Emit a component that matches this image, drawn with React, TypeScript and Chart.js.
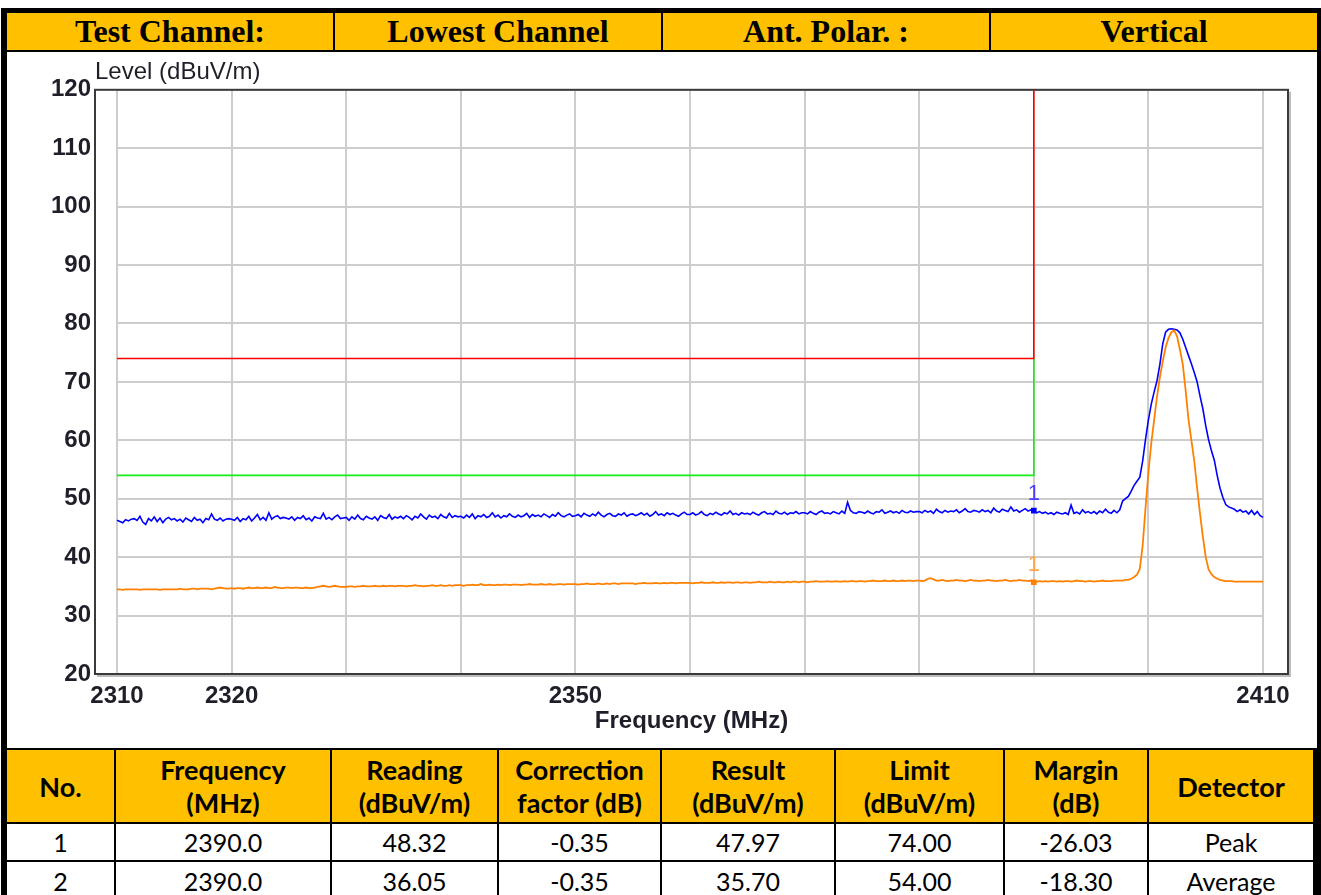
import React, { useEffect, useRef } from 'react';
import { Chart, registerables } from 'chart.js';

Chart.register(...registerables);

// ---------------- data ----------------
const headerCells = ['Test Channel:', 'Lowest Channel', 'Ant. Polar. :', 'Vertical'];

const sweepStart = 2310;
const sweepStep = 0.25;

// Peak detector trace (dBuV/m), 2310 .. 2410 MHz every 0.25 MHz
const peakLevels = [
  46.3, 46.1, 45.9, 46.4, 46.2, 46.5, 46.6, 46.3, 47.0, 46.0, 45.6, 46.6, 46.2, 46.9, 46.1, 46.7, 45.9, 46.5, 46.8, 46.4,
  46.6, 46.2, 46.5, 46.0, 46.7, 46.4, 46.1, 46.8, 46.3, 46.5, 45.9, 46.6, 46.4, 47.4, 46.5, 46.3, 46.7, 46.2, 46.5, 46.6,
  46.5, 46.3, 46.8, 46.1, 46.6, 46.4, 47.0, 46.2, 46.7, 47.3, 46.4, 46.8, 46.3, 47.6, 46.5, 46.9, 47.1, 46.6, 46.8, 46.7,
  46.5, 46.9, 46.3, 46.8, 46.6, 47.1, 46.4, 46.7, 46.2, 46.9, 46.7, 46.6, 47.5, 46.5, 46.8, 46.4, 46.9, 47.2, 46.6, 46.7,
  46.8, 46.3, 46.9, 46.5, 47.2, 46.6, 46.4, 47.0, 46.7, 46.5, 46.9, 46.3, 47.1, 46.8, 46.6, 47.3, 46.5, 46.9, 46.7, 47.0,
  46.6, 47.1, 46.8, 46.4, 47.0, 46.7, 47.4, 46.9, 46.5, 47.2, 46.8, 47.0, 46.6, 47.3, 46.9, 46.7, 47.5, 46.8, 47.1, 46.9,
  47.0, 46.7, 47.2, 46.8, 47.4, 46.6, 47.1, 46.9, 47.3, 46.8, 47.0, 47.6, 46.9, 47.2, 46.7, 47.1, 46.9, 47.4, 47.0, 46.8,
  47.2, 46.9, 47.1, 47.5, 46.8, 47.3, 47.0, 47.2, 46.9, 47.4, 47.1, 46.8, 47.3, 47.0, 47.6, 47.1, 46.9, 47.2, 47.4, 47.0,
  47.1, 47.3, 46.9, 47.5, 47.2, 47.0, 47.4, 47.1, 47.7, 47.2, 46.9, 47.3, 47.5, 47.1, 47.0, 47.4, 47.2, 47.6, 47.0, 47.3,
  47.4, 47.1, 47.3, 47.6, 47.2, 47.5, 47.0, 47.3, 47.8, 47.2, 47.4, 47.1, 47.6, 47.3, 47.5, 47.2, 47.0, 47.4, 47.7, 47.3,
  47.3, 47.6, 47.2, 47.4, 47.8, 47.3, 47.1, 47.5, 47.3, 47.7, 47.4, 47.2, 47.6, 47.4, 47.9, 47.3, 47.5, 47.2, 47.6, 47.4,
  47.5, 47.3, 47.7, 47.4, 47.2, 47.6, 47.8, 47.4, 47.5, 47.3, 47.9, 47.5, 47.4, 47.7, 47.3, 47.6, 47.5, 47.8, 47.4, 47.6,
  47.6, 47.4, 47.8, 47.5, 47.3, 47.7, 47.9, 47.5, 47.6, 47.4, 47.8, 47.6, 47.4, 47.9, 47.5, 49.4, 48.0, 47.6, 47.5, 47.8,
  47.7, 47.5, 47.9, 47.6, 47.4, 47.8, 47.7, 48.1, 47.5, 47.7, 47.9, 47.6, 47.8, 47.5, 48.0, 47.7, 47.6, 47.9, 47.7, 47.8,
  47.8, 47.6, 48.0, 47.7, 47.9, 47.5, 48.2, 47.8, 47.6, 48.0, 47.7, 47.9, 47.8, 48.1, 47.6, 47.9, 48.3, 47.8, 47.7, 48.0,
  47.9, 47.7, 48.1, 47.8, 48.0, 47.6, 48.4, 47.9, 47.7, 48.2, 48.0, 47.8, 48.6, 47.9, 48.1, 47.7, 48.0, 48.3, 47.9, 48.1,
  48.0, 47.6, 47.8, 47.5, 47.7, 47.4, 47.6, 47.3, 47.7, 47.5, 47.4, 47.6, 47.3, 48.9, 47.5, 47.7, 47.4, 48.1, 47.6, 47.8,
  47.5, 47.8, 47.4, 47.9, 47.6, 48.2, 47.7, 47.5, 48.0, 47.6, 48.1, 49.6, 50.0, 50.4, 51.3, 52.3, 53.0, 53.7, 56.5, 60.2,
  63.5, 66.2, 68.3, 70.2, 73.0, 76.5, 78.5, 79.0, 79.1, 79.0, 78.9, 78.4, 77.3, 75.9, 74.5, 73.1, 71.6, 70.0, 67.6, 65.4,
  62.5, 60.1, 58.2, 56.6, 54.0, 51.8, 50.2, 49.0, 48.6, 48.4, 48.2, 47.8, 48.1, 47.7, 47.9, 47.4, 48.0, 47.3, 47.8, 47.1,
  46.8,
];

// Average detector trace (dBuV/m), same frequency grid
const avgLevels = [
  34.5, 34.5, 34.4, 34.5, 34.5, 34.5, 34.5, 34.5, 34.4, 34.5, 34.5, 34.5, 34.5, 34.5, 34.5, 34.4, 34.5, 34.5, 34.5, 34.5,
  34.5, 34.5, 34.6, 34.5, 34.5, 34.5, 34.6, 34.6, 34.5, 34.6, 34.6, 34.6, 34.6, 34.5, 34.6, 34.7, 34.8, 34.7, 34.6, 34.6,
  34.7, 34.6, 34.7, 34.7, 34.6, 34.7, 34.8, 34.7, 34.7, 34.8, 34.7, 34.7, 34.8, 34.7, 34.7, 34.9, 34.8, 34.7, 34.7, 34.8,
  34.8, 34.7, 34.8, 34.8, 34.7, 34.7, 34.8, 34.7, 34.7, 34.8, 34.9, 35.0, 35.1, 35.0, 34.9, 35.0, 35.1, 35.0, 34.9, 34.9,
  34.9, 35.0, 35.0, 34.9, 35.0, 35.0, 35.1, 35.0, 35.0, 35.0, 35.1, 35.0, 35.0, 35.1, 35.0, 35.1, 35.1, 35.0, 35.1, 35.1,
  35.1, 35.0, 35.1, 35.1, 35.2, 35.1, 35.1, 35.0, 35.1, 35.1, 35.2, 35.1, 35.1, 35.2, 35.1, 35.1, 35.2, 35.1, 35.2, 35.2,
  35.2, 35.1, 35.2, 35.2, 35.3, 35.2, 35.2, 35.4, 35.2, 35.2, 35.3, 35.2, 35.2, 35.3, 35.2, 35.3, 35.3, 35.2, 35.3, 35.3,
  35.3, 35.2, 35.3, 35.3, 35.4, 35.3, 35.3, 35.3, 35.4, 35.3, 35.3, 35.4, 35.3, 35.3, 35.4, 35.4, 35.3, 35.4, 35.4, 35.4,
  35.4, 35.3, 35.4, 35.4, 35.5, 35.4, 35.4, 35.4, 35.5, 35.4, 35.4, 35.5, 35.4, 35.5, 35.5, 35.4, 35.5, 35.5, 35.5, 35.5,
  35.5, 35.4, 35.5, 35.5, 35.6, 35.5, 35.5, 35.5, 35.6, 35.5, 35.5, 35.6, 35.5, 35.6, 35.6, 35.5, 35.6, 35.6, 35.6, 35.6,
  35.6, 35.5, 35.6, 35.6, 35.7, 35.6, 35.6, 35.6, 35.7, 35.6, 35.6, 35.7, 35.6, 35.7, 35.7, 35.6, 35.7, 35.7, 35.6, 35.7,
  35.7, 35.6, 35.7, 35.7, 35.8, 35.7, 35.7, 35.7, 35.8, 35.7, 35.7, 35.8, 35.7, 35.7, 35.8, 35.7, 35.8, 35.8, 35.7, 35.8,
  35.8, 35.7, 35.8, 35.8, 35.9, 35.8, 35.8, 35.8, 35.9, 35.8, 35.8, 35.9, 35.8, 35.8, 35.9, 35.8, 35.9, 35.9, 35.8, 35.9,
  35.9, 35.8, 35.9, 35.9, 36.0, 35.9, 35.9, 35.9, 36.0, 35.9, 35.9, 36.0, 35.9, 35.9, 36.0, 35.9, 36.0, 36.0, 35.9, 36.0,
  36.0, 35.9, 36.0, 36.3, 36.4, 36.2, 36.0, 36.0, 36.1, 36.0, 35.9, 36.0, 36.0, 36.1, 36.0, 36.0, 35.9, 36.0, 36.1, 36.0,
  36.0, 35.9, 36.0, 36.0, 36.1, 36.0, 36.0, 35.9, 36.0, 36.0, 36.1, 36.0, 35.9, 36.0, 36.0, 36.1, 36.0, 36.0, 35.9, 36.0,
  35.7, 35.8, 35.9, 35.8, 35.9, 35.8, 35.9, 35.9, 35.8, 35.9, 35.8, 35.9, 35.9, 35.8, 35.9, 36.0, 35.9, 35.9, 35.8, 35.9,
  35.9, 35.8, 35.9, 35.9, 36.0, 35.9, 35.9, 35.9, 36.0, 36.0, 36.0, 36.0, 36.1, 36.1, 36.3, 36.6, 37.0, 38.0, 42.0, 48.5,
  54.5, 59.5, 63.5, 67.5, 70.8, 73.5, 75.9, 77.5, 78.5, 78.8, 77.8, 75.5, 73.0, 68.5, 63.5, 60.0, 56.5, 51.8, 47.5, 43.5,
  40.0, 37.9, 37.1, 36.6, 36.3, 36.1, 36.0, 35.9, 35.9, 35.9, 35.8, 35.8, 35.8, 35.8, 35.8, 35.8, 35.8, 35.8, 35.8, 35.8,
  35.8,
];

const peakLimitFreqs = [2310, 2390, 2390];
const peakLimitLevels = [74, 74, 120];
const avgLimitFreqs = [2310, 2390, 2390];
const avgLimitLevels = [54, 54, 74];

const markerFreqs = [2390, 2390];
const markerLevels = [47.97, 35.7];
const markerLabels = ['1', '1'];

const xGridTicks = [2310, 2320, 2330, 2340, 2350, 2360, 2370, 2380, 2390, 2400, 2410];
const xLabelTicks = [2310, 2320, 2350, 2410];
const yTicks = [20, 30, 40, 50, 60, 70, 80, 90, 100, 110, 120];

const tableHead = [
  'No.',
  'Frequency\n(MHz)',
  'Reading\n(dBuV/m)',
  'Correction\nfactor (dB)',
  'Result\n(dBuV/m)',
  'Limit\n(dBuV/m)',
  'Margin\n(dB)',
  'Detector',
];
const tableRow1 = ['1', '2390.0', '48.32', '-0.35', '47.97', '74.00', '-26.03', 'Peak'];
const tableRow2 = ['2', '2390.0', '36.05', '-0.35', '35.70', '54.00', '-18.30', 'Average'];

// ---------------- layout constants ----------------
const headerBounds = [7, 333, 661, 989, 1317];
const colBounds = [7, 114, 330, 497, 660, 834, 1003, 1147, 1313];
const YELLOW = '#FFC000';
const CHART_FONT = "'Liberation Sans', Arial, sans-serif";
const TABLE_FONT = "Lato, 'Open Sans', sans-serif";

const toPoints = (xs: number[], ys: number[]) => xs.map((x, i) => ({ x, y: ys[i] }));
const sweepPoints = (ys: number[]) => ys.map((y, i) => ({ x: sweepStart + i * sweepStep, y }));

const markerColors = ['#0000ff', '#ff8000'];
const markerLabelColors = ['#4a3cff', '#ffa64d'];

const plotPlugin = {
  id: 'plotDecor',
  beforeDatasetsDraw(chart: any) {
    const { ctx, chartArea, scales } = chart;
    const xs = scales.x;
    const ys = scales.y;
    const x0 = xs.getPixelForValue(xGridTicks[0]);
    const x1 = xs.getPixelForValue(xGridTicks[xGridTicks.length - 1]);
    const yTop = ys.getPixelForValue(yTicks[yTicks.length - 1]);
    const yBot = ys.getPixelForValue(yTicks[0]);
    ctx.save();
    ctx.strokeStyle = '#cdcdcd';
    ctx.lineWidth = 2;
    ctx.beginPath();
    yTicks.forEach((v) => {
      const py = Math.round(ys.getPixelForValue(v));
      ctx.moveTo(x0, py);
      ctx.lineTo(x1, py);
    });
    xGridTicks.forEach((v) => {
      const px = Math.round(xs.getPixelForValue(v));
      ctx.moveTo(px, yTop);
      ctx.lineTo(px, yBot);
    });
    ctx.stroke();
    // frame
    const { left, right, top, bottom } = chartArea;
    ctx.strokeStyle = '#a8a8a8';
    ctx.lineWidth = 1.5;
    ctx.beginPath();
    ctx.moveTo(right + 2, top + 2);
    ctx.lineTo(right + 2, bottom + 2);
    ctx.lineTo(left + 2, bottom + 2);
    ctx.stroke();
    ctx.strokeStyle = '#3a3a3a';
    ctx.lineWidth = 2;
    ctx.strokeRect(left, top, right - left, bottom - top);
    ctx.restore();
  },
  afterDatasetsDraw(chart: any) {
    const { ctx, scales } = chart;
    ctx.save();
    ctx.font = `22px ${CHART_FONT}`;
    ctx.textAlign = 'center';
    ctx.textBaseline = 'middle';
    markerFreqs.forEach((f, i) => {
      const px = scales.x.getPixelForValue(f);
      const py = scales.y.getPixelForValue(markerLevels[i]);
      ctx.fillStyle = markerLabelColors[i];
      ctx.fillText(markerLabels[i], px, py - 17);
    });
    ctx.restore();
  },
};

function PlotChart() {
  const canvasRef = useRef<HTMLCanvasElement>(null);
  useEffect(() => {
    if (!canvasRef.current) return;
    const tickFont = { family: CHART_FONT, size: 24, weight: 'bold' as const };
    const chart = new Chart(canvasRef.current, {
      type: 'line',
      data: {
        datasets: [
          {
            label: 'Peak limit',
            data: toPoints(peakLimitFreqs, peakLimitLevels),
            borderColor: '#ff0000',
            borderWidth: 1.6,
            pointRadius: 0,
            tension: 0,
          },
          {
            label: 'Average limit',
            data: toPoints(avgLimitFreqs, avgLimitLevels),
            borderColor: '#14ee14',
            borderWidth: 1.6,
            pointRadius: 0,
            tension: 0,
          },
          {
            label: 'Average',
            data: sweepPoints(avgLevels),
            borderColor: '#ff8000',
            borderWidth: 1.8,
            pointRadius: 0,
            tension: 0,
          },
          {
            label: 'Peak',
            data: sweepPoints(peakLevels),
            borderColor: '#0000ff',
            borderWidth: 1.6,
            pointRadius: 0,
            tension: 0,
          },
          {
            label: 'Markers',
            data: toPoints(markerFreqs, markerLevels),
            showLine: false,
            pointStyle: 'rect',
            pointRadius: 4,
            pointBorderWidth: 0,
            pointBackgroundColor: markerColors,
            borderColor: markerColors,
          },
        ],
      },
      options: {
        animation: false,
        responsive: false,
        events: [],
        layout: { padding: { left: 0, top: 0, right: 29, bottom: 0 } },
        plugins: {
          legend: { display: false },
          tooltip: { enabled: false },
          title: {
            display: true,
            text: 'Level (dBuV/m)',
            align: 'start',
            fullSize: false,
            color: '#1f1f2a',
            font: { family: CHART_FONT, size: 24, weight: 'normal' },
            padding: { top: 6, bottom: 3 },
          },
        },
        scales: {
          x: {
            type: 'linear',
            min: 2308.08,
            max: 2412.18,
            grid: { display: false, drawTicks: false },
            border: { display: false },
            afterBuildTicks: (s: any) => {
              s.ticks = xGridTicks.map((value) => ({ value }));
            },
            afterFit: (s: any) => {
              s.height = 74;
            },
            ticks: {
              autoSkip: false,
              maxRotation: 0,
              minRotation: 0,
              padding: 8,
              color: '#1f1f2a',
              font: tickFont,
              callback: (v: any) => (xLabelTicks.includes(Number(v)) ? String(v) : ''),
            },
            title: {
              display: true,
              text: 'Frequency (MHz)',
              color: '#1f1f2a',
              font: { family: CHART_FONT, size: 24, weight: 'bold' },
              padding: { top: 0, bottom: 12 },
            },
          },
          y: {
            type: 'linear',
            min: 20,
            max: 120,
            grid: { display: false, drawTicks: false },
            border: { display: false },
            afterBuildTicks: (s: any) => {
              s.ticks = yTicks.map((value) => ({ value }));
            },
            afterFit: (s: any) => {
              s.width = 88;
            },
            ticks: {
              padding: 4,
              color: '#1f1f2a',
              font: tickFont,
              callback: (v: any) => String(v),
            },
          },
        },
      },
      plugins: [plotPlugin],
    });
    return () => chart.destroy();
  }, []);
  return <canvas ref={canvasRef} width={1310} height={696} style={{ display: 'block', width: 1310, height: 696 }} />;
}

function Cell(props: { left: number; top: number; width: number; height: number; bg: string; children: React.ReactNode; font: string }) {
  const { left, top, width, height, bg, children, font } = props;
  return (
    <div
      style={{
        position: 'absolute',
        left,
        top,
        width,
        height,
        background: bg,
        display: 'flex',
        alignItems: 'center',
        justifyContent: 'center',
        textAlign: 'center',
        whiteSpace: 'pre-line',
        font,
        color: '#000',
      }}
    >
      {children}
    </div>
  );
}

export default function App() {
  const rows = [
    { cells: tableHead, top: 750, height: 72, bg: YELLOW, font: `bold 27px/33px ${TABLE_FONT}` },
    { cells: tableRow1, top: 824, height: 36, bg: '#fff', font: `normal 25px/30px ${TABLE_FONT}` },
    { cells: tableRow2, top: 862, height: 38, bg: '#fff', font: `normal 25px/30px ${TABLE_FONT}` },
  ];
  return (
    <div style={{ position: 'absolute', left: 0, top: 0, width: 1321, height: 895, overflow: 'hidden', background: '#fff' }}>
      <div style={{ position: 'absolute', left: 1, top: 8, width: 1320, height: 900, background: '#000' }} />
      {headerCells.map((t, i) => {
        const left = headerBounds[i] + (i > 0 ? 2 : 0);
        return (
          <Cell
            key={'h' + i}
            left={left}
            top={13}
            width={headerBounds[i + 1] - left}
            height={37}
            bg={YELLOW}
            font={`bold 32px/37px 'Liberation Serif', 'Times New Roman', serif`}
          >
            {t}
          </Cell>
        );
      })}
      <div style={{ position: 'absolute', left: 7, top: 52, width: 1310, height: 696, background: '#fff' }}>
        <PlotChart />
      </div>
      {rows.map((r, ri) =>
        r.cells.map((t, ci) => {
          const left = colBounds[ci] + (ci > 0 ? 2 : 0);
          return (
            <Cell
              key={`r${ri}c${ci}`}
              left={left}
              top={r.top}
              width={colBounds[ci + 1] - left}
              height={r.height}
              bg={r.bg}
              font={r.font}
            >
              {t}
            </Cell>
          );
        })
      )}
    </div>
  );
}
